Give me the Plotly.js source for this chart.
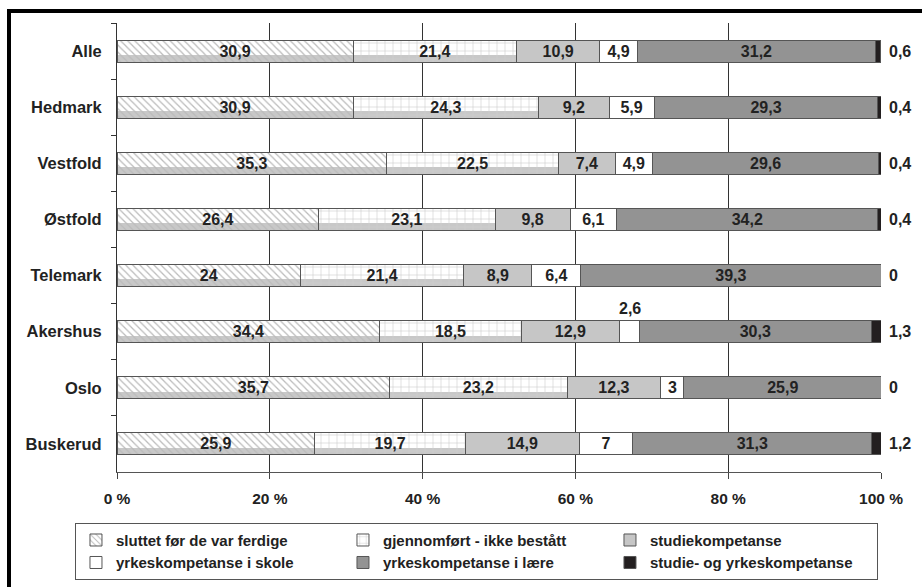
<!DOCTYPE html>
<html>
<head>
<meta charset="utf-8">
<script src="https://cdn.plot.ly/plotly-3.0.1.min.js"></script>
<style>
  html, body { margin: 0; padding: 0; background: #fff; overflow: hidden; }
  #chart { width: 922px; height: 587px; position: relative; }
  #frame { position: absolute; left: 7px; top: 9px; width: 1000px; height: 1000px;
           border-left: 4px solid #000; border-top: 4px solid #000; pointer-events: none; }
</style>
</head>
<body>
<div id="chart"></div>
<div id="frame"></div>
<script>
const categories = ['Alle', 'Hedmark', 'Vestfold', 'Østfold', 'Telemark', 'Akershus', 'Oslo', 'Buskerud'];
const seriesNames = ['sluttet før de var ferdige', 'gjennomført - ikke bestått', 'studiekompetanse',
                     'yrkeskompetanse i skole', 'yrkeskompetanse i lære', 'studie- og yrkeskompetanse'];
const sluttet      = [30.9, 30.9, 35.3, 26.4, 24,   34.4, 35.7, 25.9];
const ikkeBestatt  = [21.4, 24.3, 22.5, 23.1, 21.4, 18.5, 23.2, 19.7];
const studiekomp   = [10.9, 9.2,  7.4,  9.8,  8.9,  12.9, 12.3, 14.9];
const yrkesSkole   = [4.9,  5.9,  4.9,  6.1,  6.4,  2.6,  3,    7];
const yrkesLaere   = [31.2, 29.3, 29.6, 34.2, 39.3, 30.3, 25.9, 31.3];
const studieOgYrke = [0.6,  0.4,  0.4,  0.4,  0,    1.3,  0,    1.2];
const xTickVals = [0, 20, 40, 60, 80, 100];

const series = [sluttet, ikkeBestatt, studiekomp, yrkesSkole, yrkesLaere, studieOgYrke];
const fmt = v => String(v).replace('.', ',');

const BOLD = {family: 'Liberation Sans, Arial, sans-serif', weight: 'bold', color: '#222'};
const lineStyle = {color: '#555', width: 1};
const markers = [
  {color: 'rgba(0,0,0,0)', pattern: {shape: '\\', fgcolor: '#bbbbbb', bgcolor: 'rgba(0,0,0,0)', size: 5, solidity: 0.25}, line: lineStyle},
  {color: 'rgba(0,0,0,0)', pattern: {shape: '+', fgcolor: '#cfcfcf', bgcolor: 'rgba(0,0,0,0)', size: 8, solidity: 0.15}, line: lineStyle},
  {color: '#c6c6c6', line: lineStyle},
  {color: '#ffffff', line: lineStyle},
  {color: '#939393', line: lineStyle},
  {color: '#231f20', line: lineStyle}
];

const traces = [];
// background layer (under the patterned bars): white backing + grey strip at bar bottom
const sum12 = sluttet.map((v, i) => v + ikkeBestatt[i]);
traces.push({type: 'bar', orientation: 'h', y: categories, x: sum12, base: 0, yaxis: 'y',
  width: 0.39, marker: {color: '#ffffff', line: {width: 0}}, showlegend: false, hoverinfo: 'skip'});
traces.push({type: 'bar', orientation: 'h', y: categories, x: sluttet, base: 0, yaxis: 'y',
  width: 0.12, offset: 0.07, marker: {color: '#c8c8c8', line: {width: 0}}, showlegend: false, hoverinfo: 'skip'});
traces.push({type: 'bar', orientation: 'h', y: categories, x: ikkeBestatt, base: sluttet, yaxis: 'y',
  width: 0.12, offset: 0.07, marker: {color: '#c8c8c8', line: {width: 0}}, showlegend: false, hoverinfo: 'skip'});

// main stacked series (overlay axis)
series.forEach((vals, k) => {
  const isLast = k === series.length - 1;
  traces.push({
    type: 'bar', orientation: 'h', name: seriesNames[k],
    y: categories, x: vals, yaxis: 'y2', width: 0.39,
    marker: markers[k],
    text: vals.map(v => (isLast || v < 2.8) ? '' : fmt(v)),
    textposition: 'inside', insidetextanchor: 'middle', constraintext: 'none', textangle: 0,
    textfont: Object.assign({size: 16}, BOLD),
    hoverinfo: 'x+y+name'
  });
});

const annotations = [];
// right-hand values for last series
studieOgYrke.forEach((v, i) => {
  annotations.push({xref: 'paper', yref: 'y', x: 1, y: categories[i], xanchor: 'left', xshift: 6,
    text: fmt(v), showarrow: false, font: Object.assign({size: 16}, BOLD)});
});
// small segments labelled above the bar
categories.forEach((c, i) => {
  let cum = 0;
  series.slice(0, 5).forEach((vals) => {
    const v = vals[i];
    if (v < 2.8) {
      annotations.push({xref: 'x', yref: 'y', x: cum + v / 2, y: c, yshift: 23,
        text: fmt(v), showarrow: false, font: Object.assign({size: 16}, BOLD)});
    }
    cum += v;
  });
});

const layout = {
  width: 922, height: 587,
  margin: {l: 117, r: 41, t: 23, b: 115, autoexpand: false},
  paper_bgcolor: '#fff', plot_bgcolor: '#fff',
  barmode: 'stack', bargap: 0.61,
  showlegend: true,
  font: {family: 'Liberation Sans, Arial, sans-serif', color: '#222'},
  xaxis: {
    range: [0, 100], tickvals: xTickVals, ticktext: xTickVals.map(v => v + ' %'),
    showgrid: true, gridcolor: '#333', gridwidth: 1, zeroline: false,
    showline: true, linecolor: '#555', linewidth: 1,
    ticks: 'outside', ticklen: 6, tickcolor: '#444',
    tickfont: Object.assign({size: 15.5}, BOLD), ticklabelstandoff: 6, fixedrange: true
  },
  yaxis: {
    type: 'category', categoryorder: 'array', categoryarray: categories, range: [7.5, -0.5],
    tickson: 'boundaries', ticks: 'outside', ticklen: 5, tickcolor: '#333',
    showline: true, linecolor: '#333', linewidth: 1, showgrid: false, zeroline: false,
    tickfont: Object.assign({size: 16.5}, BOLD), ticklabelstandoff: 11, fixedrange: true
  },
  yaxis2: {
    type: 'category', categoryorder: 'array', categoryarray: categories, range: [7.5, -0.5],
    overlaying: 'y', visible: false, fixedrange: true
  },
  legend: {
    orientation: 'h', x: -0.055, xanchor: 'left', y: -0.113, yanchor: 'top',
    bgcolor: '#fff', bordercolor: '#555', borderwidth: 1,
    entrywidth: 222, entrywidthmode: 'pixels', itemwidth: 30, traceorder: 'normal',
    font: Object.assign({size: 15}, BOLD)
  },
  annotations: annotations
};

Plotly.newPlot('chart', traces, layout, {displayModeBar: false, staticPlot: true});
</script>
</body>
</html>
